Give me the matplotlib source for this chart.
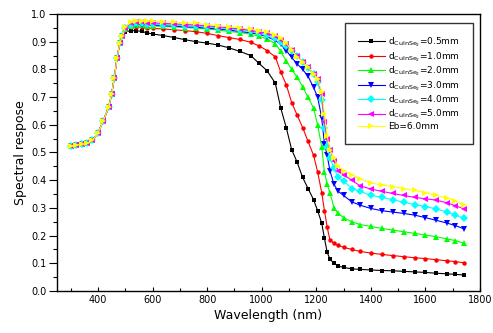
import matplotlib
matplotlib.use("Agg")
import matplotlib.pyplot as plt
from matplotlib.ticker import MultipleLocator

wavelength = [300, 320, 340, 360, 380, 400, 420, 440, 450, 460, 470, 480, 490, 500,
              520, 540, 560, 580, 600, 640, 680, 720, 760, 800, 840, 880, 920, 960, 990,
              1020, 1050, 1070, 1090, 1110, 1130, 1150, 1170, 1190, 1205, 1220, 1230, 1240, 1250, 1265, 1280,
              1300, 1330, 1360, 1400, 1440, 1480, 1520, 1560, 1600, 1640, 1680, 1710, 1740]

rise = [0.525, 0.526, 0.529, 0.533, 0.545, 0.57, 0.615, 0.665, 0.71, 0.77, 0.84, 0.895, 0.92]

d05 = rise + [0.935,
              0.94, 0.94, 0.937, 0.932, 0.928, 0.922, 0.915, 0.907, 0.90, 0.895, 0.888, 0.878, 0.865, 0.85, 0.822,
              0.795, 0.75, 0.66, 0.59, 0.51, 0.465, 0.41, 0.37, 0.33, 0.29, 0.245, 0.19, 0.14, 0.115, 0.10, 0.09,
              0.085, 0.08, 0.078, 0.076, 0.074, 0.073, 0.071, 0.069, 0.067, 0.064, 0.062, 0.06, 0.058]
d10 = rise + [0.942,
              0.952, 0.953, 0.952, 0.95, 0.948, 0.946, 0.943, 0.94, 0.936, 0.93, 0.922, 0.915, 0.908, 0.898, 0.885,
              0.868, 0.845, 0.79, 0.745, 0.68, 0.635, 0.59, 0.54, 0.49, 0.43, 0.355, 0.29, 0.23, 0.185, 0.172, 0.165,
              0.158, 0.15, 0.143, 0.137, 0.132, 0.128, 0.124, 0.12, 0.117, 0.113, 0.109, 0.106, 0.102]
d20 = rise + [0.945,
              0.958, 0.96, 0.96, 0.958, 0.957, 0.955, 0.953, 0.951, 0.949, 0.946, 0.942, 0.937, 0.933, 0.927, 0.92,
              0.91, 0.893, 0.865, 0.83, 0.80, 0.772, 0.737, 0.70, 0.66, 0.60, 0.52, 0.43, 0.385, 0.355, 0.30, 0.28,
              0.265, 0.25, 0.24, 0.233, 0.226, 0.22, 0.214, 0.208, 0.202, 0.196, 0.188, 0.182, 0.173]
d30 = rise + [0.947,
              0.96, 0.962, 0.962, 0.961, 0.96, 0.958, 0.956, 0.954, 0.952, 0.949, 0.946, 0.942, 0.937, 0.932, 0.927,
              0.918, 0.905, 0.89, 0.868, 0.843, 0.82, 0.80, 0.775, 0.735, 0.70, 0.625, 0.53, 0.49, 0.435, 0.385, 0.36,
              0.345, 0.322, 0.31, 0.298, 0.29, 0.285, 0.28, 0.274, 0.265, 0.255, 0.245, 0.236, 0.225]
d40 = rise + [0.948,
              0.962, 0.966, 0.966, 0.965, 0.964, 0.962, 0.96, 0.958, 0.956, 0.953, 0.95, 0.946, 0.942, 0.937, 0.932,
              0.925, 0.915, 0.90, 0.885, 0.868, 0.848, 0.825, 0.805, 0.782, 0.755, 0.69, 0.59, 0.52, 0.48, 0.445, 0.41,
              0.397, 0.37, 0.36, 0.345, 0.338, 0.33, 0.32, 0.312, 0.305, 0.296, 0.285, 0.274, 0.263]
d50 = rise + [0.95,
              0.966, 0.97, 0.97, 0.969, 0.968, 0.966, 0.964, 0.962, 0.96, 0.957, 0.954, 0.95, 0.946, 0.941, 0.936,
              0.93, 0.92, 0.906, 0.89, 0.87, 0.848, 0.828, 0.808, 0.785, 0.765, 0.71, 0.61, 0.55, 0.51, 0.47, 0.435,
              0.42, 0.40, 0.38, 0.368, 0.36, 0.352, 0.345, 0.338, 0.333, 0.328, 0.318, 0.308, 0.297]
eb60 = rise + [0.952,
               0.97, 0.975, 0.975, 0.975, 0.974, 0.972, 0.97, 0.968, 0.966, 0.962, 0.958, 0.954, 0.95, 0.945, 0.94,
               0.935, 0.925, 0.912, 0.895, 0.87, 0.845, 0.826, 0.808, 0.785, 0.765, 0.72, 0.64, 0.56, 0.51, 0.48, 0.45,
               0.435, 0.42, 0.405, 0.39, 0.383, 0.377, 0.37, 0.363, 0.355, 0.345, 0.335, 0.325, 0.31]

labels = [r'd$_{\mathrm{CuInSe_2}}$=0.5mm', r'd$_{\mathrm{CuInSe_2}}$=1.0mm',
          r'd$_{\mathrm{CuInSe_2}}$=2.0mm', r'd$_{\mathrm{CuInSe_2}}$=3.0mm',
          r'd$_{\mathrm{CuInSe_2}}$=4.0mm', r'd$_{\mathrm{CuInSe_2}}$=5.0mm', 'Eb=6.0mm']
series = [d05, d10, d20, d30, d40, d50, eb60]
colors = ['#000000', '#ff0000', '#00ff00', '#0000ff', '#00ffff', '#ff00ff', '#ffff00']
markers = ['s', 'o', '^', 'v', 'D', '<', '>']
msizes = [3.4, 3.2, 4.4, 4.4, 3.6, 4.4, 4.4]

plt.rcParams['font.family'] = ['DejaVu Sans']
fig = plt.figure(figsize=(4.93, 3.33), dpi=100)
ax = fig.add_axes([57/493, 1 - 291/333, (480-57)/493, (291-14)/333])

for y, lab, c, m, s in zip(series, labels, colors, markers, msizes):
    ax.plot(wavelength, y, color=c, marker=m, markersize=s, linewidth=0.8,
            markeredgewidth=0, label=lab)

ax.set_xlim(250, 1800)
ax.set_ylim(0.0, 1.0)
ax.xaxis.set_minor_locator(MultipleLocator(100))
ax.yaxis.set_major_locator(MultipleLocator(0.1))
ax.yaxis.set_minor_locator(MultipleLocator(0.05))
ax.set_xticks([400, 600, 800, 1000, 1200, 1400, 1600, 1800])
ax.yaxis.set_major_formatter(matplotlib.ticker.FormatStrFormatter('%.1f'))
ax.tick_params(axis='y', which='major', direction='out', length=6, width=0.8, labelsize=7, pad=1.5)
ax.tick_params(axis='y', which='minor', direction='out', length=3, width=0.8)
ax.tick_params(axis='x', which='major', direction='in', length=3, width=0.8, labelsize=7, pad=3)
ax.tick_params(axis='x', which='minor', direction='in', length=2, width=0.8)
for sp in ax.spines.values():
    sp.set_linewidth(1.0)

ax.set_xlabel('Wavelength (nm)', fontsize=9, labelpad=3)
ax.set_ylabel('Spectral respose', fontsize=9, labelpad=3)

leg = ax.legend(loc='upper right', bbox_to_anchor=(0.983, 0.9675), borderaxespad=0,
                fontsize=6.5, frameon=True, fancybox=False, edgecolor='black',
                handlelength=3.0, labelspacing=0.1, borderpad=1.4, handletextpad=0.4)
leg.get_frame().set_linewidth(1.0)

fig.savefig('out.png', dpi=100)
